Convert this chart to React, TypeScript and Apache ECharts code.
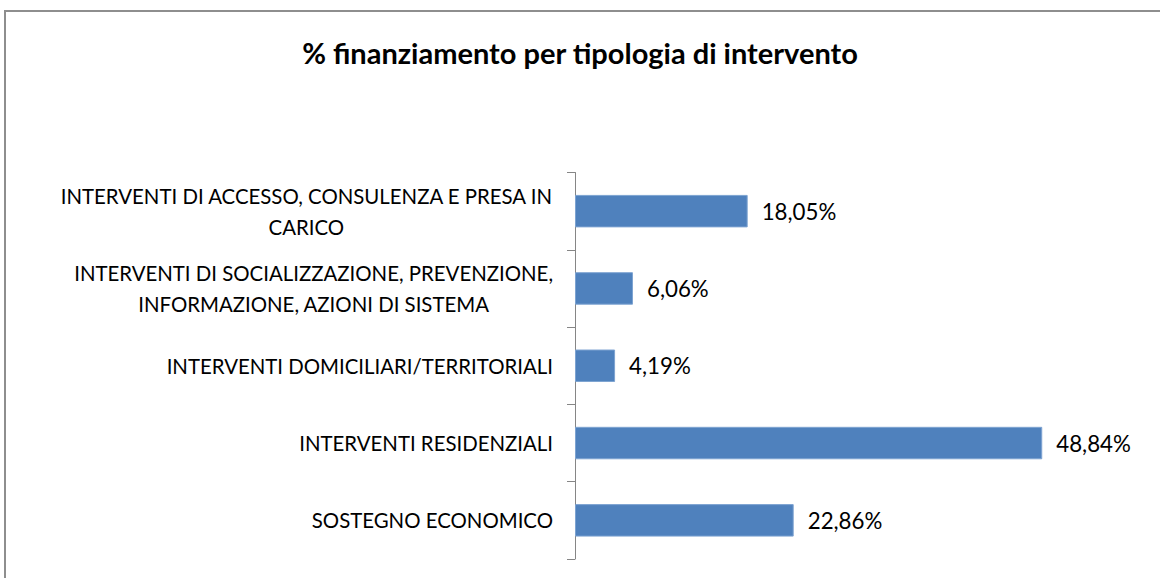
import React, { useEffect, useRef } from "react";
import * as echarts from "echarts";

const titleText = "% finanziamento per tipologia di intervento";
const categories = [
  "INTERVENTI DI ACCESSO, CONSULENZA E PRESA IN CARICO",
  "INTERVENTI DI SOCIALIZZAZIONE, PREVENZIONE, INFORMAZIONE, AZIONI DI SISTEMA",
  "INTERVENTI DOMICILIARI/TERRITORIALI",
  "INTERVENTI RESIDENZIALI",
  "SOSTEGNO ECONOMICO",
];
const values = [18.05, 6.06, 4.19, 48.84, 22.86];

const FONT = "Lato";
const LABEL_SIZE = 20.4;
const VALUE_SIZE = 22.3;

function wrap(text: string, maxChars: number): string[] {
  const words = text.split(" ");
  const lines: string[] = [];
  let cur = "";
  for (const w of words) {
    const cand = cur ? cur + " " + w : w;
    if (cand.length > maxChars && cur) {
      lines.push(cur);
      cur = w;
    } else {
      cur = cand;
    }
  }
  if (cur) lines.push(cur);
  return lines;
}

export default function App() {
  const ref = useRef<HTMLDivElement>(null);
  useEffect(() => {
    if (!ref.current) return;
    const chart = echarts.init(ref.current, null, { renderer: "svg" });
    chart.setOption({
      animation: false,
      backgroundColor: "#ffffff",
      title: {
        text: titleText,
        left: "center",
        top: 33,
        textStyle: {
          fontFamily: FONT,
          fontWeight: "bold",
          fontSize: 29,
          color: "#000000",
        },
      },
      graphic: [
        {
          type: "rect",
          shape: { x: 5, y: 11, width: 1300, height: 700 },
          style: { fill: "none", stroke: "#8e8e8e", lineWidth: 2 },
          silent: true,
        },
      ],
      grid: { left: 575, right: 11, top: 172.5, bottom: 19 },
      xAxis: {
        type: "value",
        min: 0,
        max: 60,
        show: false,
      },
      yAxis: {
        type: "category",
        inverse: true,
        data: categories,
        axisLine: { show: true, lineStyle: { color: "#868686", width: 1 } },
        axisTick: { show: true, length: 8, lineStyle: { color: "#868686" } },
        axisLabel: {
          margin: 22,
          align: "right",
          formatter: (v: string) =>
            wrap(v, 45)
              .map((l) => "{c|" + l + "}")
              .join("\n"),
          rich: {
            c: {
              align: "center",
              fontFamily: FONT,
              fontSize: LABEL_SIZE,
              lineHeight: 31,
              color: "#000000",
            },
          },
        },
        splitLine: { show: false },
      },
      series: [
        {
          type: "bar",
          data: values,
          barCategoryGap: "58%",
          itemStyle: { color: "#4F81BD", borderColor: "#7DA3D1", borderWidth: 1 },
          label: {
            show: true,
            position: "right",
            distance: 14,
            fontFamily: FONT,
            fontSize: VALUE_SIZE,
            color: "#000000",
            formatter: (p: any) => p.value.toFixed(2).replace(".", ",") + "%",
          },
        },
      ],
    });
    return () => chart.dispose();
  }, []);
  return (
    <div
      ref={ref}
      style={{ position: "absolute", left: 0, top: 0, width: 1160, height: 578 }}
    />
  );
}
